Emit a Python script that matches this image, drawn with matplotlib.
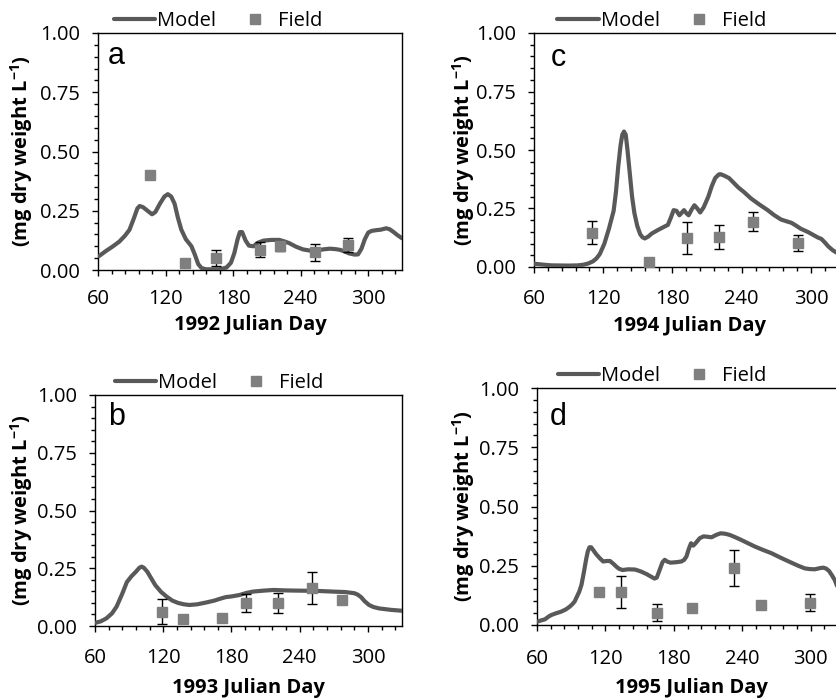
import matplotlib
matplotlib.use("Agg")
import matplotlib.pyplot as plt
from matplotlib.ticker import MultipleLocator, FixedLocator

plt.rcParams['font.family'] = ['Open Sans', 'DejaVu Sans']
plt.rcParams['mathtext.fontset'] = 'custom'
plt.rcParams['mathtext.rm'] = 'Open Sans'
plt.rcParams['mathtext.bf'] = 'Open Sans:bold'
plt.rcParams['mathtext.it'] = 'Open Sans:italic'

# ---- 1992 (panel a) ----
model_day_1992 = [61, 67, 73, 79, 84, 88, 92, 95, 97, 100, 104, 108, 111, 115, 119, 122,
                  125, 128, 131, 134, 138, 143, 146, 149, 152, 156, 168, 174, 178, 181,
                  184, 186, 188, 191, 194, 198, 202, 207, 214, 221, 226, 230, 236, 242,
                  248, 254, 260, 266, 271, 275, 279, 283, 288, 291, 294, 297, 300, 303,
                  307, 311, 316, 319, 322, 326, 330]
model_val_1992 = [0.059, 0.08, 0.099, 0.12, 0.145, 0.17, 0.22, 0.26, 0.27, 0.265, 0.25,
                  0.235, 0.245, 0.28, 0.31, 0.32, 0.31, 0.28, 0.22, 0.17, 0.13, 0.10,
                  0.065, 0.025, 0.008, 0.003, 0.003, 0.01, 0.03, 0.07, 0.13, 0.16, 0.16,
                  0.125, 0.103, 0.10, 0.115, 0.124, 0.127, 0.127, 0.12, 0.113, 0.098,
                  0.087, 0.082, 0.082, 0.087, 0.09, 0.088, 0.085, 0.078, 0.07, 0.065,
                  0.066, 0.09, 0.13, 0.158, 0.165, 0.168, 0.17, 0.176, 0.172, 0.162,
                  0.147, 0.134]
field_day_1992 = [106, 137, 165, 204, 222, 253, 282]
field_val_1992 = [0.40, 0.03, 0.05, 0.085, 0.10, 0.075, 0.105]
field_err_1992 = [0.0, 0.0, 0.035, 0.032, 0.02, 0.035, 0.03]

# ---- 1993 (panel b) ----
model_day_1993 = [60.5, 65, 70, 75, 79, 84, 88, 92, 96, 99, 101, 103, 106, 109, 113, 118,
                  123, 128, 133, 138, 143, 150, 158, 165, 170, 175, 180, 187, 193, 199,
                  208, 217, 228, 240, 255, 269, 280, 288, 291, 294, 297, 301, 305, 310,
                  320, 330]
model_val_1993 = [0.014, 0.02, 0.033, 0.055, 0.084, 0.14, 0.19, 0.215, 0.235, 0.252,
                  0.257, 0.252, 0.235, 0.21, 0.177, 0.148, 0.127, 0.11, 0.10, 0.094,
                  0.091, 0.094, 0.102, 0.11, 0.118, 0.125, 0.128, 0.134, 0.143, 0.149,
                  0.153, 0.156, 0.154, 0.153, 0.152, 0.149, 0.147, 0.142, 0.136, 0.125,
                  0.108, 0.091, 0.082, 0.076, 0.07, 0.066]
field_day_1993 = [119, 137, 172, 193, 221, 251, 277]
field_val_1993 = [0.062, 0.029, 0.033, 0.10, 0.10, 0.165, 0.113]
field_err_1993 = [0.055, 0.0, 0.0, 0.04, 0.045, 0.07, 0.0]

# ---- 1994 (panel c) ----
model_day_1994 = [60, 68, 75, 90, 98, 103, 107, 111, 114, 117, 121, 125, 129, 131, 133,
                  135, 136.5, 138, 139.5, 141, 143, 145, 147, 149.5, 152, 154, 156, 159,
                  162, 167, 172, 176, 178.5, 181, 183.5, 186, 188, 190, 192, 194, 196.5,
                  199, 201.5, 204, 207, 211, 214, 217, 220, 221.5, 225, 229, 233, 237,
                  242, 248, 255, 262.5, 268, 274, 279, 283, 287, 291, 298, 306, 309,
                  312, 315, 319, 322, 326, 330]
model_val_1994 = [0.014, 0.01, 0.007, 0.006, 0.007, 0.01, 0.015, 0.024, 0.036, 0.055,
                  0.10, 0.165, 0.24, 0.32, 0.43, 0.52, 0.565, 0.579, 0.565, 0.50, 0.40,
                  0.30, 0.23, 0.175, 0.14, 0.127, 0.122, 0.13, 0.143, 0.157, 0.17, 0.18,
                  0.21, 0.243, 0.24, 0.221, 0.232, 0.243, 0.23, 0.221, 0.245, 0.264,
                  0.25, 0.233, 0.255, 0.30, 0.345, 0.38, 0.395, 0.397, 0.39, 0.38, 0.36,
                  0.34, 0.32, 0.293, 0.268, 0.243, 0.222, 0.203, 0.195, 0.189, 0.177,
                  0.164, 0.148, 0.126, 0.12, 0.105, 0.088, 0.071, 0.062, 0.055, 0.05]
field_day_1994 = [110, 160, 193, 220, 250, 289]
field_val_1994 = [0.147, 0.021, 0.124, 0.129, 0.193, 0.103]
field_err_1994 = [0.048, 0.0, 0.07, 0.05, 0.04, 0.033]

# ---- 1995 (panel d) ----
model_day_1995 = [60, 64, 67, 70, 72.5, 77, 81, 85, 88.6, 91, 93, 95, 97, 99, 101, 103,
                  104.5, 106, 107.5, 109, 112, 115, 118, 121, 124, 127, 129.6, 132, 135,
                  140, 146, 151, 156, 160, 163, 165, 167.5, 170, 172, 174, 177, 182,
                  186.6, 189, 191, 193, 195, 197, 199, 202.6, 206, 210, 213, 217, 221,
                  225, 229, 234, 239, 245, 251, 258, 265.5, 274, 283, 289, 294.7, 299,
                  303.5, 308, 311, 313.5, 316, 318.5, 321, 323, 326, 330]
model_val_1995 = [0.014, 0.02, 0.024, 0.035, 0.042, 0.05, 0.056, 0.065, 0.077, 0.088,
                  0.099, 0.12, 0.14, 0.17, 0.22, 0.275, 0.31, 0.328, 0.328, 0.318, 0.298,
                  0.282, 0.268, 0.27, 0.27, 0.258, 0.246, 0.237, 0.232, 0.235, 0.234,
                  0.226, 0.215, 0.204, 0.196, 0.20, 0.232, 0.265, 0.275, 0.268, 0.263,
                  0.265, 0.268, 0.275, 0.289, 0.32, 0.345, 0.335, 0.345, 0.366, 0.374,
                  0.372, 0.37, 0.38, 0.387, 0.385, 0.38, 0.37, 0.359, 0.345, 0.331,
                  0.317, 0.303, 0.283, 0.263, 0.25, 0.239, 0.236, 0.235, 0.24, 0.242,
                  0.238, 0.228, 0.21, 0.19, 0.165, 0.14, 0.12]
field_day_1995 = [114, 134, 165, 196, 233, 256, 299]
field_val_1995 = [0.138, 0.138, 0.052, 0.073, 0.239, 0.085, 0.094]
field_err_1995 = [0.0, 0.067, 0.036, 0.0, 0.076, 0.0, 0.035]

x_ticks = [60, 120, 180, 240, 300]
y_ticks = [0.00, 0.25, 0.50, 0.75, 1.00]

LINE_COLOR = '#595959'
MARKER_COLOR = '#7f7f7f'
FS = 14.5

W, H = 837, 699
fig = plt.figure(figsize=(W / 100, H / 100), dpi=100)


def px_axes(left, top, width, height):
    return fig.add_axes([left / W, 1 - (top + height) / H, width / W, height / H])


panels = [
    # letter, year, model days, model vals, field days, field vals, errs,
    # (left, top, width, height) in px, ylabel centre x (px), legend centre x (axes),
    # letter position (px), x tick-label pad (pt), x label offset below axis (px)
    ('a', 1992, model_day_1992, model_val_1992, field_day_1992, field_val_1992, field_err_1992,
     (98, 33, 304, 237), 22, 0.395, (108, 64), 9.5, 55),
    ('c', 1994, model_day_1994, model_val_1994, field_day_1994, field_val_1994, field_err_1994,
     (534, 33, 311.6, 234), 464, 0.41, (551, 66), 11.5, 59),
    ('b', 1993, model_day_1993, model_val_1993, field_day_1993, field_val_1993, field_err_1993,
     (95, 395, 307, 231), 22, 0.404, (108, 425), 11.5, 62),
    ('d', 1995, model_day_1995, model_val_1995, field_day_1995, field_val_1995, field_err_1995,
     (537, 388, 308, 237), 464, 0.406, (550, 425), 12.5, 63),
]

for (letter, year, mday, mval, fday, fval, ferr, box, ylab_px, leg_x, let_px,
     xpad, xlab_off) in panels:
    left, top, width, height = box
    ax = px_axes(*box)
    ax.plot(mday, mval, color=LINE_COLOR, lw=3.0, solid_capstyle='round',
            solid_joinstyle='round', label='Model', zorder=3)
    err_days = [d for d, e in zip(fday, ferr) if e > 0]
    err_vals = [v for v, e in zip(fval, ferr) if e > 0]
    err_sizes = [e for e in ferr if e > 0]
    ax.errorbar(err_days, err_vals, yerr=err_sizes, fmt='none', ecolor='black',
                elinewidth=1.0, capsize=3.5, capthick=1.0, zorder=4)
    ax.plot(fday, fval, ls='none', marker='s', ms=7.5, color=MARKER_COLOR,
            mec=MARKER_COLOR, label='Field', zorder=5)

    ax.set_xlim(60, 330)
    ax.set_ylim(0, 1.0)
    ax.xaxis.set_major_locator(FixedLocator(x_ticks))
    ax.xaxis.set_minor_locator(MultipleLocator(12))
    ax.yaxis.set_major_locator(FixedLocator(y_ticks))
    ax.yaxis.set_minor_locator(MultipleLocator(0.05))
    ax.set_yticklabels([f'{v:.2f}' for v in y_ticks])
    ax.tick_params(axis='both', which='major', direction='out', length=4.5, width=1,
                   labelsize=FS, colors='black')
    ax.tick_params(axis='both', which='minor', direction='out', length=3, width=1)
    ax.tick_params(axis='x', which='major', pad=xpad)
    ax.tick_params(axis='y', which='major', pad=8.5)
    for sp in ax.spines.values():
        sp.set_linewidth(1.0)
        sp.set_color('black')

    ax.set_xlabel(f'{year} Julian Day', fontsize=FS, fontweight='bold', va='center')
    ax.xaxis.set_label_coords(0.5, -xlab_off / height)
    ax.set_ylabel(r'(mg dry weight L$^{\mathbf{-1}}$)', fontsize=FS, fontweight='bold',
                  va='center')
    ax.yaxis.set_label_coords((ylab_px - left) / width, 0.5)

    ax.text((let_px[0] - left) / width, (top + height - let_px[1]) / height, letter,
            transform=ax.transAxes, fontsize=22, family='Liberation Sans',
            va='baseline', ha='left')

    ax.legend(loc='center', bbox_to_anchor=(leg_x, 1 + 12 / height), ncol=2, frameon=False,
              fontsize=FS, handlelength=2.05, handletextpad=0.12, columnspacing=0.9,
              borderaxespad=0.0, borderpad=0.0)

fig.savefig('out.png', dpi=100)
